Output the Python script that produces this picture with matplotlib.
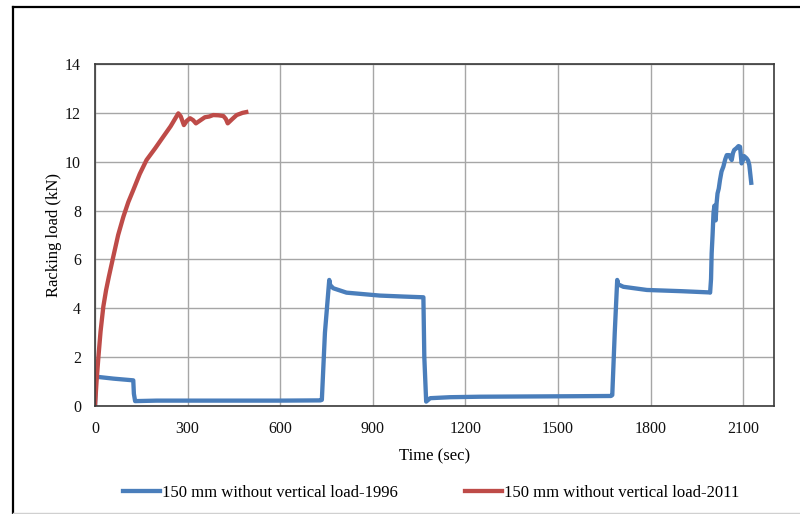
import matplotlib
matplotlib.use("Agg")
import matplotlib.pyplot as plt
from matplotlib.lines import Line2D

# ---- data ----
t_1996 = [0, 3, 60, 124, 126, 130, 200, 400, 600, 730, 735, 745, 759, 762, 772, 815, 923, 1000, 1064,
          1067, 1073, 1086, 1150, 1248, 1400, 1550, 1672, 1676, 1684, 1692, 1695, 1712, 1788, 1900, 1990,
          1993, 1996, 1998, 2001, 2004, 2007, 2010, 2011, 2014, 2017, 2021, 2025, 2030, 2036, 2042, 2047,
          2055, 2059, 2063, 2067, 2071, 2078, 2085, 2090, 2093, 2095, 2099, 2103, 2111, 2116, 2120, 2124, 2127]
y_1996 = [0.0, 1.2, 1.12, 1.05, 0.5, 0.2, 0.22, 0.22, 0.22, 0.23, 0.25, 3.0, 5.16, 4.95, 4.82, 4.64, 4.52, 4.48, 4.45,
          2.0, 0.18, 0.32, 0.36, 0.38, 0.39, 0.4, 0.41, 0.45, 3.0, 5.16, 4.98, 4.88, 4.75, 4.7, 4.65,
          4.64, 5.2, 6.25, 7.0, 7.9, 8.2, 7.7, 7.6, 8.3, 8.7, 8.9, 9.25, 9.6, 9.8, 10.1, 10.27,
          10.27, 10.15, 10.07, 10.35, 10.48, 10.55, 10.64, 10.61, 10.2, 9.93, 10.05, 10.23, 10.14, 10.05, 9.86, 9.4, 9.05]

t_2011 = [0, 5, 11, 18, 27, 36, 45, 59, 75, 92, 108, 124, 145, 167, 195, 221, 245, 270, 278, 288, 298, 308, 318, 327,
          342, 356, 370, 383, 400, 416, 424, 430, 445, 459, 478, 497]
y_2011 = [0.0, 1.0, 2.0, 3.05, 4.07, 4.75, 5.3, 6.1, 7.0, 7.75, 8.35, 8.84, 9.5, 10.07, 10.55, 11.02, 11.45, 11.98, 11.85, 11.5, 11.68, 11.78, 11.7, 11.57,
          11.7, 11.82, 11.85, 11.91, 11.9, 11.87, 11.75, 11.57, 11.75, 11.91, 12.0, 12.05]

x_ticks = [0, 300, 600, 900, 1200, 1500, 1800, 2100]
y_ticks = [0, 2, 4, 6, 8, 10, 12, 14]
label_1996 = "150 mm without vertical load-1996"
label_2011 = "150 mm without vertical load-2011"
x_label = "Time (sec)"
y_label = "Racking load (kN)"

blue = "#4A7EBB"
red = "#BE4B48"

plt.rcParams['font.family'] = ['Liberation Serif', 'DejaVu Serif']
fig = plt.figure(figsize=(8.0, 5.14), dpi=100)
ax = fig.add_axes([95/800, 1-406/514, (774-95)/800, (406-64)/514])

ax.plot(t_1996, y_1996, color=blue, lw=3.1, solid_joinstyle='round', solid_capstyle='butt')
ax.plot(t_2011, y_2011, color=red, lw=3.1, solid_joinstyle='round', solid_capstyle='butt')

ax.set_xlim(0, 2200)
ax.set_ylim(0, 14)
ax.set_xticks(x_ticks)
ax.set_yticks(y_ticks)
ax.set_xticklabels([str(v) for v in x_ticks])
ax.set_yticklabels([str(v) for v in y_ticks])
ax.grid(True, color="#A6A6A6", lw=1.0)
ax.set_axisbelow(True)
ax.tick_params(length=0, labelsize=11.5, colors="#111111")
ax.tick_params(axis='y', pad=10)
ax.tick_params(axis='x', pad=11)
for s in ax.spines.values():
    s.set_color("#3a3a3a")
    s.set_linewidth(1.2)

ax.set_xlabel(x_label, fontsize=12, labelpad=8)
ax.set_ylabel(y_label, fontsize=12, labelpad=2)

handles = [Line2D([0], [0], color=blue, lw=3.1), Line2D([0], [0], color=red, lw=3.1)]
fig.legend(handles, [label_1996, label_2011], loc='center', bbox_to_anchor=(0.539, 1-493/514),
           ncol=2, frameon=False, fontsize=12, handlelength=2.2, handletextpad=0.15,
           columnspacing=4.0)

# figure border (chart area frame)
fig.add_artist(Line2D([13/800, 13/800], [1-7/514, 0], transform=fig.transFigure, color="black", lw=1.6))
fig.add_artist(Line2D([13/800, 1], [1-7/514, 1-7/514], transform=fig.transFigure, color="black", lw=1.6))
fig.add_artist(Line2D([13/800, 1], [1.5/514, 1.5/514], transform=fig.transFigure, color="#D0D0D0", lw=1.0))

fig.savefig("out.png", dpi=100)
